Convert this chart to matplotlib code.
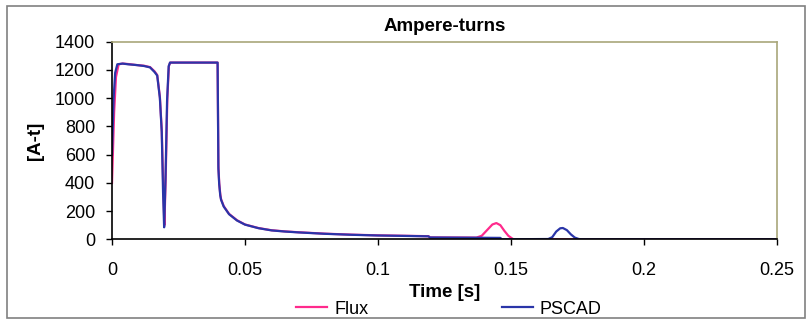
import numpy as np
import matplotlib
matplotlib.use("Agg")
import matplotlib.pyplot as plt
from matplotlib.patches import Rectangle

plt.rcParams['font.family'] = ['Liberation Sans', 'DejaVu Sans']

# --------------------- Daten ---------------------
t_flux = [0.0, 0.0004, 0.0008, 0.0015, 0.0025, 0.004, 0.006, 0.009, 0.012, 0.0143,
          0.016, 0.017, 0.018, 0.0187, 0.0193, 0.0197, 0.0202, 0.0208, 0.0214, 0.0219,
          0.030, 0.0397, 0.0400, 0.0403, 0.0407, 0.041, 0.042, 0.044, 0.047, 0.050,
          0.055, 0.060, 0.065, 0.070, 0.080, 0.090, 0.10, 0.11, 0.119, 0.1195,
          0.137, 0.139, 0.141, 0.143, 0.1445, 0.146, 0.1475, 0.149, 0.1505, 0.151, 0.25]
flux = [400, 650, 900, 1150, 1240, 1245, 1242, 1235, 1230, 1220,
        1190, 1164, 1010, 774, 350, 100, 450, 1000, 1230, 1252,
        1252, 1252, 520, 400, 320, 285, 235, 180, 135, 105,
        80, 64, 56, 50, 40, 33, 28, 25, 22, 13,
        12, 25, 65, 105, 115, 100, 60, 25, 5, 0, 0]

t_pscad = [0.0, 0.0003, 0.0006, 0.0012, 0.002, 0.004, 0.006, 0.009, 0.012, 0.0143,
           0.016, 0.017, 0.018, 0.0187, 0.0192, 0.0196, 0.0201, 0.0207, 0.0213, 0.0218,
           0.030, 0.0397, 0.0400, 0.0403, 0.0407, 0.041, 0.042, 0.044, 0.047, 0.050,
           0.055, 0.060, 0.065, 0.070, 0.080, 0.090, 0.10, 0.11, 0.119, 0.1195,
           0.146, 0.1465, 0.164, 0.1655, 0.167, 0.1685, 0.1695, 0.171, 0.1725, 0.174,
           0.1755, 0.1765, 0.25]
pscad = [600, 800, 1000, 1180, 1240, 1245, 1240, 1235, 1228, 1218,
         1185, 1160, 1000, 760, 330, 85, 420, 980, 1225, 1252,
         1252, 1252, 500, 390, 310, 280, 232, 178, 133, 104,
         79, 63, 55, 49, 39, 32, 27, 24, 21, 13,
         10, 0, 2, 15, 55, 78, 80, 65, 35, 12,
         2, 0, 0]

x_ticks = [0, 0.05, 0.1, 0.15, 0.2, 0.25]
x_labels = ["0", "0.05", "0.1", "0.15", "0.2", "0.25"]
y_ticks = [0, 200, 400, 600, 800, 1000, 1200, 1400]

# --------------------- Figure erstellen ---------------------
W, H = 807, 321
fig = plt.figure(figsize=(W / 100, H / 100), dpi=100)
fig.patch.set_facecolor('white')

ax = fig.add_axes([112 / W, 1 - 239.3 / H, (777 - 112) / W, (239.3 - 41.7) / H])

l_flux, = ax.plot(t_flux, flux, color='#ff2a8c', lw=1.6, label='Flux')
l_pscad, = ax.plot(t_pscad, pscad, color='#2a35a8', lw=1.6, label='PSCAD')

ax.set_xlim(0, 0.25)
ax.set_ylim(0, 1400)
ax.set_xticks(x_ticks)
ax.set_xticklabels(x_labels)
ax.set_yticks(y_ticks)
ax.tick_params(axis='both', labelsize=13, direction='out', length=4, width=1)
ax.tick_params(axis='x', pad=12)
ax.tick_params(axis='y', pad=8)

# Achsen im Excel-Stil
for s in ['left', 'bottom']:
    ax.spines[s].set_color('black')
    ax.spines[s].set_linewidth(1.2)
for s in ['top', 'right']:
    ax.spines[s].set_color('#a9a77a')
    ax.spines[s].set_linestyle((0, (1, 1)))
    ax.spines[s].set_linewidth(1.2)

ax.set_title("Ampere-turns", fontsize=13.5, fontweight='bold', pad=8)
ax.set_xlabel("Time [s]", fontsize=13.5, fontweight='bold', labelpad=4)
ax.set_ylabel("[A-t]", fontsize=13.5, fontweight='bold', labelpad=8)

# --------------------- Legende ---------------------
fig.legend(handles=[l_flux, l_pscad], loc='center', bbox_to_anchor=(449 / W, 1 - 309 / H),
           ncol=2, frameon=False, fontsize=13, handlelength=1.7, handletextpad=0.4,
           columnspacing=7.4)
for line in fig.legends[0].get_lines():
    line.set_linewidth(1.6)

# Rahmen um das Diagramm
fig.patches.append(Rectangle((7 / W, 1 - 318 / H), (805 - 7) / W, (318 - 6) / H,
                             transform=fig.transFigure, fill=False, edgecolor='#808080', lw=1.2))

fig.savefig("out.png", dpi=100)
